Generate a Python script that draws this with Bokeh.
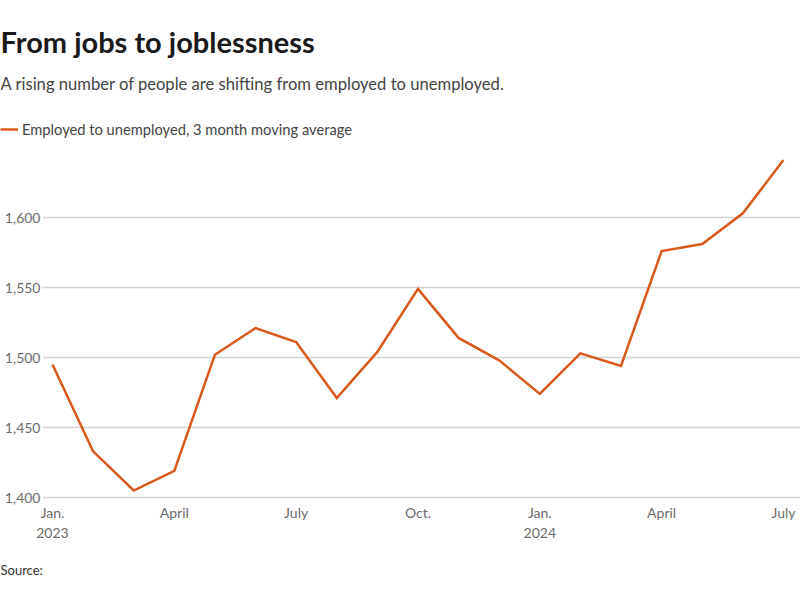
from bokeh.plotting import figure
from bokeh.layouts import column, row
from bokeh.models import Range1d, FixedTicker, Title, Label, Legend, LegendItem, NumeralTickFormatter
from bokeh.embed import file_html
from bokeh.resources import INLINE

# ---- data ----
months = ["Jan. 2023", "Feb. 2023", "Mar. 2023", "Apr. 2023", "May 2023", "Jun. 2023",
          "Jul. 2023", "Aug. 2023", "Sep. 2023", "Oct. 2023", "Nov. 2023", "Dec. 2023",
          "Jan. 2024", "Feb. 2024", "Mar. 2024", "Apr. 2024", "May 2024", "Jun. 2024",
          "Jul. 2024"]
employed_to_unemployed = [1495, 1433, 1405, 1419, 1502, 1521, 1511, 1471, 1504, 1549,
                          1514, 1498, 1474, 1503, 1494, 1576, 1581, 1603, 1641]
x_tick_positions = [0, 3, 6, 9, 12, 15, 18]
x_tick_labels = ["Jan.\n2023", "April", "July", "Oct.", "Jan.\n2024", "April", "July"]
y_ticks = [1400, 1450, 1500, 1550, 1600]

title_text = "From jobs to joblessness"
subtitle_text = "A rising number of people are shifting from employed to unemployed."
legend_text = "Employed to unemployed, 3 month moving average"
source_text = "Source:"

FONT = "Lato"
ORANGE = "#d9581c"
LEFT = 42
HEAD_H = 145
x_idx = list(range(len(months)))

# ---- header (title, subtitle, legend) ----
head = figure(width=800, height=HEAD_H, output_backend="svg", toolbar_location=None,
              x_range=Range1d(0, 800), y_range=Range1d(HEAD_H, 0),
              x_axis_location=None, y_axis_location=None,
              min_border_left=0, min_border_right=0, min_border_top=0, min_border_bottom=0)
head.grid.grid_line_color = None
head.outline_line_color = None
head.add_layout(Label(x=0, y=41, text=title_text, text_font=FONT, text_font_size="29px",
                      text_font_style="bold", text_color="#1a1a1a", text_baseline="alphabetic"))
head.add_layout(Label(x=0, y=83, text=subtitle_text, text_font=FONT, text_font_size="16.6px",
                      text_color="#444444", text_baseline="alphabetic"))
# the series line (lies outside this header's view); used for the legend swatch
swatch = head.line(x_idx, employed_to_unemployed, line_color=ORANGE, line_width=2.5)
legend = Legend(items=[LegendItem(label=legend_text, renderers=[swatch])],
                location=(0, HEAD_H - 139), orientation="horizontal",
                border_line_color=None, background_fill_alpha=0,
                padding=0, margin=0, spacing=0, glyph_width=18, glyph_height=20,
                label_height=20, label_standoff=4,
                label_text_font=FONT, label_text_font_size="14.7px", label_text_color="#444444")
head.add_layout(legend, "center")

# ---- main chart ----
p = figure(width=800, height=600 - HEAD_H, output_backend="svg", toolbar_location=None,
           x_range=Range1d(-0.246, 18.42), y_range=Range1d(1397.86, 1650),
           min_border_left=LEFT, min_border_right=0, min_border_top=2, min_border_bottom=100)

p.line(x_idx, employed_to_unemployed, line_color=ORANGE, line_width=2.5, line_join="miter")

p.outline_line_color = None
p.xgrid.grid_line_color = None
p.ygrid.grid_line_color = "#d4d4d4"
p.ygrid.grid_line_width = 1.5

p.yaxis.ticker = FixedTicker(ticks=y_ticks)
p.yaxis.formatter = NumeralTickFormatter(format="0,0")
p.xaxis.ticker = FixedTicker(ticks=x_tick_positions)
p.xaxis.major_label_overrides = {pos: lab for pos, lab in zip(x_tick_positions, x_tick_labels)}

for ax in (p.xaxis[0], p.yaxis[0]):
    ax.axis_line_color = None
    ax.major_tick_line_color = None
    ax.minor_tick_line_color = None
    ax.major_tick_out = 0
    ax.major_tick_in = 0
    ax.minor_tick_out = 0
    ax.minor_tick_in = 0
    ax.major_label_text_font = FONT
    ax.major_label_text_font_size = "14px"
    ax.major_label_text_color = "#6b6b6b"
p.yaxis.major_label_standoff = 2
p.xaxis.major_label_standoff = 3

p.add_layout(Title(text=source_text, align="left", offset=-LEFT, standoff=32,
                   text_font=FONT, text_font_size="13px", text_font_style="normal",
                   text_color="#333333"), "below")

layout = column(row(head), row(p), spacing=0)
open("out.html", "w").write(file_html(layout, INLINE))
